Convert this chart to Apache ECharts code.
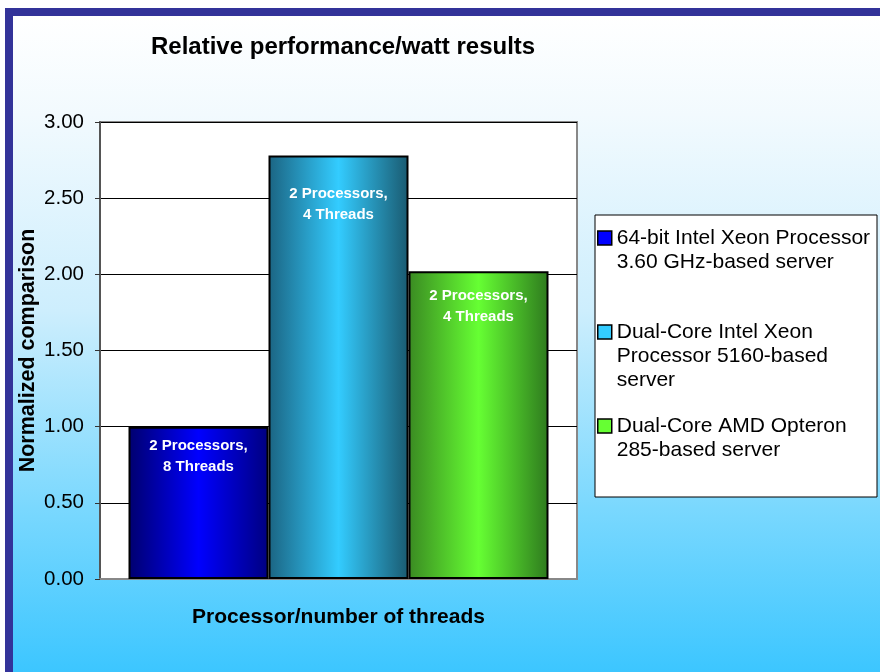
<!DOCTYPE html>
<html>
<head>
<meta charset="utf-8">
<script src="https://cdn.jsdelivr.net/npm/echarts@6/dist/echarts.min.js"></script>
<style>
html,body{margin:0;padding:0;background:#fff;}
#frame{position:absolute;left:5px;top:8px;width:875px;height:664px;background:#333399;}
#inner{position:absolute;left:13px;top:16px;width:867px;height:656px;
  background:linear-gradient(to bottom,#ffffff 0%,#f2fafe 15%,#cdeefd 45%,#7ad8fe 75%,#3cc6ff 100%);}
#chart{position:absolute;left:0;top:0;width:880px;height:672px;}
</style>
</head>
<body>
<div id="frame"></div>
<div id="inner"></div>
<div id="chart"></div>
<script>
// ---- data ----
const categories = [''];
const seriesNames = [
  '64-bit Intel Xeon Processor 3.60 GHz-based server',
  'Dual-Core Intel Xeon Processor 5160-based server',
  'Dual-Core AMD Opteron 285-based server'
];
const legendLines = [
  ['64-bit Intel Xeon Processor', '3.60 GHz-based server'],
  ['Dual-Core Intel Xeon', 'Processor 5160-based', 'server'],
  ['Dual-Core AMD Opteron', '285-based server']
];
const values = [1.00, 2.78, 2.02];
const barLabels = ['2 Processors,\n8 Threads', '2 Processors,\n4 Threads', '2 Processors,\n4 Threads'];
const yTicks = [0, 0.5, 1, 1.5, 2, 2.5, 3];

// ---- styles ----
const FONT = '"Liberation Sans", Arial, sans-serif';
const gradStops = [
  ['#00006e', '#0000ff', '#000080'],
  ['#1b6482', '#33ccff', '#1a5a70'],
  ['#3a8a22', '#66ff33', '#2e7a1e']
];
const solid = ['#0000ff', '#33ccff', '#66ff33'];
const labelDist = [9, 28, 14];

const chart = echarts.init(document.getElementById('chart'), null, {renderer: 'canvas'});

const series = seriesNames.map((name, i) => ({
  name: name,
  type: 'bar',
  barWidth: 140,
  barGap: '0%',
  data: [values[i]],
  itemStyle: {
    color: new echarts.graphic.LinearGradient(0, 0, 1, 0, [
      {offset: 0, color: gradStops[i][0]},
      {offset: 0.5, color: gradStops[i][1]},
      {offset: 1, color: gradStops[i][2]}
    ]),
    borderColor: '#000',
    borderWidth: 2
  },
  label: {
    show: true,
    position: 'insideTop',
    distance: labelDist[i],
    formatter: () => barLabels[i],
    color: '#fff',
    fontWeight: 'bold',
    fontSize: 15,
    lineHeight: 21,
    fontFamily: FONT
  }
}));

function pad(lines) {
  const n = lines.length;
  return '\n'.repeat(n - 1) + lines.join('\n');
}

chart.setOption({
  backgroundColor: 'transparent',
  animation: false,
  title: {
    text: 'Relative performance/watt results',
    left: 151,
    top: 35,
    padding: 0,
    textStyle: {fontFamily: FONT, fontWeight: 'bold', fontSize: 24, color: '#000'}
  },
  graphic: [{
    type: 'rect',
    shape: {x: 595, y: 215, width: 282, height: 282},
    style: {fill: '#fff', stroke: '#000', lineWidth: 1},
    z: 0
  }],
  legend: {
    orient: 'vertical',
    left: 597,
    top: 202,
    padding: 0,
    itemGap: -2,
    itemWidth: 14,
    itemHeight: 14,
    icon: 'rect',
    data: seriesNames.map((n, i) => ({
      name: n,
      itemStyle: {color: solid[i], borderColor: '#000', borderWidth: 1.5}
    })),
    formatter: (name) => pad(legendLines[seriesNames.indexOf(name)]),
    textStyle: {fontFamily: FONT, fontSize: 21, lineHeight: 24, color: '#000'}
  },
  grid: {
    left: 100, top: 122, right: 303, bottom: 93,
    show: true, backgroundColor: '#fff', borderColor: '#888', borderWidth: 2
  },
  xAxis: {
    type: 'category',
    data: categories,
    name: 'Processor/number of threads',
    nameLocation: 'middle',
    nameGap: 28,
    nameMoveOverlap: false,
    nameTextStyle: {fontFamily: FONT, fontWeight: 'bold', fontSize: 21, color: '#000'},
    axisLine: {show: true, lineStyle: {color: '#888', width: 2}},
    axisTick: {show: false},
    axisLabel: {show: false}
  },
  yAxis: {
    type: 'value',
    min: yTicks[0],
    max: yTicks[yTicks.length - 1],
    interval: 0.5,
    name: 'Normalized comparison',
    nameLocation: 'middle',
    nameGap: 61,
    nameMoveOverlap: false,
    nameTextStyle: {fontFamily: FONT, fontWeight: 'bold', fontSize: 21.5, color: '#000'},
    axisLine: {show: true, lineStyle: {color: '#555', width: 2}},
    axisTick: {show: true, length: 5, lineStyle: {color: '#333', width: 1}},
    axisLabel: {
      margin: 16,
      fontFamily: FONT, fontSize: 20.5, color: '#000',
      formatter: (v) => v.toFixed(2)
    },
    splitLine: {show: true, lineStyle: {color: '#000', width: 1}}
  },
  series: series
});
</script>
</body>
</html>
